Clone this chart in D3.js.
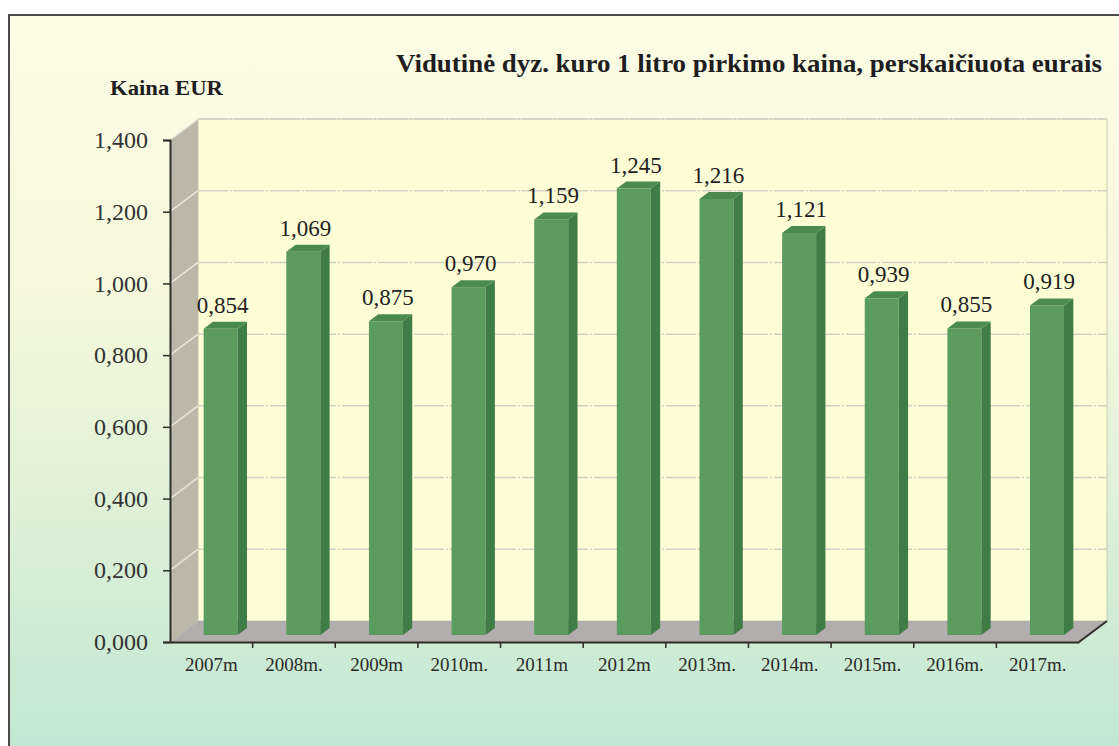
<!DOCTYPE html>
<html>
<head>
<meta charset="utf-8">
<script src="https://cdn.jsdelivr.net/npm/d3@7"></script>
<style>
  body { margin: 0; background: #fff; }
  svg { display: block; }
</style>
</head>
<body>
<script>
// data
var years = ['2007m', '2008m.', '2009m', '2010m.', '2011m', '2012m', '2013m.', '2014m.', '2015m.', '2016m.', '2017m.'];
var prices = [0.854, 1.069, 0.875, 0.970, 1.159, 1.245, 1.216, 1.121, 0.939, 0.855, 0.919];
var yTicks = [0, 0.2, 0.4, 0.6, 0.8, 1.0, 1.2, 1.4];

var width = 1119, height = 746;
var DX = 28, DY = 21;      // 3d depth of the floor
var barW = 34;
var serif = '"Times New Roman", "Liberation Serif", serif';

var fmt = function(v) { return v.toFixed(3).replace('.', ','); };

var svg = d3.select('body')
    .append('svg')
    .attr('width', width)
    .attr('height', height);

var defs = svg.append('defs');
var grad = defs.append('linearGradient')
    .attr('id', 'bg')
    .attr('x1', 0).attr('y1', 0).attr('x2', 0).attr('y2', 1);
grad.append('stop').attr('offset', '0%').attr('stop-color', '#fdfde6');
grad.append('stop').attr('offset', '38%').attr('stop-color', '#f5f8dc');
grad.append('stop').attr('offset', '68%').attr('stop-color', '#dcf0d6');
grad.append('stop').attr('offset', '100%').attr('stop-color', '#c1e6d2');

// outer frame
svg.append('rect')
    .attr('x', 9)
    .attr('y', 15)
    .attr('width', width)
    .attr('height', height)
    .style('fill', 'url(#bg)')
    .style('stroke', '#4a4a48')
    .style('stroke-width', 2);

var x = d3.scaleBand()
    .domain(years)
    .range([170, 1079]);

var y = d3.scaleLinear()
    .domain([0, 1.4])
    .range([642, 140]);

var x0 = x.range()[0], x1 = x.range()[1];
var y0 = y(0), yTop = y(1.4);

var pts = function(a) { return a.map(function(p) { return p.join(','); }).join(' '); };

// back wall
svg.append('rect')
    .attr('x', x0 + DX)
    .attr('y', yTop - DY)
    .attr('width', x1 - x0)
    .attr('height', y0 - yTop)
    .style('fill', '#fefed6')
    .style('stroke', '#c9c8bc')
    .style('stroke-width', 1);

// side wall
svg.append('polygon')
    .attr('points', pts([[x0, yTop], [x0 + DX, yTop - DY], [x0 + DX, y0 - DY], [x0, y0]]))
    .style('fill', '#bbb8a8');

// floor
svg.append('polygon')
    .attr('points', pts([[x0, y0], [x0 + DX, y0 - DY], [x1 + DX, y0 - DY], [x1, y0]]))
    .style('fill', '#b3aeae');

// gridlines on back wall and side wall
svg.selectAll('line.grid')
    .data(yTicks.slice(1))
    .enter()
    .append('line')
    .classed('grid', true)
    .attr('x1', x0 + DX)
    .attr('x2', x1 + DX)
    .attr('y1', function(d) { return y(d) - DY; })
    .attr('y2', function(d) { return y(d) - DY; })
    .style('stroke', '#d3d1c6')
    .style('stroke-width', 1.5)
    .style('stroke-dasharray', '30,2,2,2');

svg.selectAll('line.sgrid')
    .data(yTicks.slice(1))
    .enter()
    .append('line')
    .classed('sgrid', true)
    .attr('x1', x0)
    .attr('x2', x0 + DX)
    .attr('y1', function(d) { return y(d); })
    .attr('y2', function(d) { return y(d) - DY; })
    .style('stroke', '#e8e6dc')
    .style('stroke-width', 1.5);

// bars
var bars = svg.selectAll('g.bar')
    .data(prices)
    .enter()
    .append('g')
    .classed('bar', true);

var fx = function(d, i) { return x(years[i]) + x.bandwidth() / 2 + DX / 3 - barW / 2; };

bars.append('rect')
    .attr('x', fx)
    .attr('y', function(d) { return y(d) - DY / 3; })
    .attr('width', barW)
    .attr('height', function(d) { return y0 - y(d); })
    .style('fill', '#5b9c5e');

bars.append('polygon')
    .attr('points', function(d, i) {
        var l = fx(d, i) + barW, t = y(d) - DY / 3, b = y0 - DY / 3;
        return pts([[l, t], [l + DX / 3, t - DY / 3], [l + DX / 3, b - DY / 3], [l, b]]);
    })
    .style('fill', '#3f7c46');

bars.append('polygon')
    .attr('points', function(d, i) {
        var l = fx(d, i), t = y(d) - DY / 3;
        return pts([[l, t], [l + DX / 3, t - DY / 3], [l + barW + DX / 3, t - DY / 3], [l + barW, t]]);
    })
    .style('fill', '#4b8b50');

// value labels
bars.append('text')
    .attr('x', function(d, i) { return fx(d, i) + barW / 2 + 2; })
    .attr('y', function(d) { return y(d) - 2 * DY / 3 - 9; })
    .attr('text-anchor', 'middle')
    .style('font-family', serif)
    .style('font-size', '23px')
    .style('fill', '#222')
    .text(fmt);

// axes
svg.append('g')
    .attr('transform', 'translate(' + x0 + ',0)')
    .call(d3.axisLeft(y).tickValues(yTicks).tickFormat(fmt).tickSize(7).tickPadding(15))
    .call(function(g) {
        g.select('.domain').style('stroke', '#2e2e2a').style('stroke-width', 2);
        g.selectAll('.tick line').style('stroke', '#2e2e2a').style('stroke-width', 1.5);
        g.selectAll('.tick text')
            .style('font-family', serif)
            .style('font-size', '24px')
            .style('fill', '#333');
    });

var xAxis = svg.append('g')
    .attr('transform', 'translate(0,' + y0 + ')')
    .call(d3.axisBottom(x).tickSize(0).tickPadding(16))
    .call(function(g) {
        g.select('.domain').style('stroke', '#2e2e2a').style('stroke-width', 2);
        g.selectAll('.tick text')
            .style('font-family', serif)
            .style('font-size', '19px')
            .style('fill', '#2a2a2a');
    });

// category separator ticks
xAxis.selectAll('line.sep')
    .data(years.slice(1))
    .enter()
    .append('line')
    .classed('sep', true)
    .attr('x1', function(d) { return x(d); })
    .attr('x2', function(d) { return x(d); })
    .attr('y1', 0)
    .attr('y2', 6)
    .style('stroke', '#2e2e2a')
    .style('stroke-width', 1.5);

// right edge of floor
svg.append('line')
    .attr('x1', x1).attr('y1', y0)
    .attr('x2', x1 + DX).attr('y2', y0 - DY)
    .style('stroke', '#2e2e2a')
    .style('stroke-width', 2);

// titles
svg.append('text')
    .attr('x', 396)
    .attr('y', 72)
    .attr('textLength', 706)
    .attr('lengthAdjust', 'spacingAndGlyphs')
    .style('font-family', serif)
    .style('font-weight', 'bold')
    .style('font-size', '25px')
    .style('fill', '#1e1e1e')
    .text('Vidutinė dyz. kuro 1 litro pirkimo kaina, perskaičiuota eurais');

svg.append('text')
    .attr('x', 110)
    .attr('y', 95)
    .attr('textLength', 113)
    .attr('lengthAdjust', 'spacingAndGlyphs')
    .style('font-family', serif)
    .style('font-weight', 'bold')
    .style('font-size', '20px')
    .style('fill', '#1e1e1e')
    .text('Kaina EUR');
</script>
</body>
</html>
